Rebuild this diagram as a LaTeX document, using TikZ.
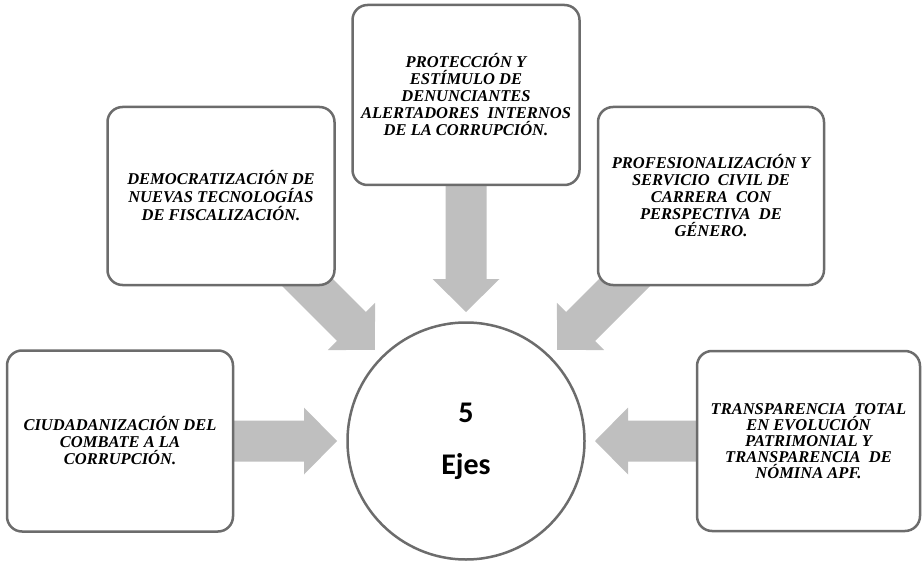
\documentclass[tikz,border=0pt]{standalone}
\usepackage{fontspec}
\setmainfont{Liberation Serif}
\newfontfamily\calibfont{Carlito}
\usetikzlibrary{calc,backgrounds}
\definecolor{arrowgray}{RGB}{191,191,191}
\definecolor{bordergray}{RGB}{108,108,108}
\newcommand\myblockarrow[2]{%
  \coordinate (T) at ($(#2.center)!129pt!(#1.center)$);
  \coordinate (H) at ($(T)!33pt!(#1.center)$);
  \fill[arrowgray] ($(#1.center)!20.5pt!90:(T)$) -- ($(H)!20.5pt!90:(T)$)
    -- ($(H)!33.5pt!90:(T)$) -- (T) -- ($(H)!33.5pt!-90:(T)$)
    -- ($(H)!20.5pt!-90:(T)$) -- ($(#1.center)!20.5pt!-90:(T)$) -- cycle;
}
\tikzset{
  axisbox/.style={draw=bordergray, line width=2.5pt, rounded corners=15pt, fill=white,
    inner sep=0pt, align=center,
    font=\fontsize{16.5}{17}\selectfont\bfseries\itshape},
  hub/.style={circle, draw=bordergray, line width=2.5pt, fill=white, inner sep=0pt,
    minimum size=237pt, align=center,
    font=\calibfont\fontsize{30}{52}\selectfont\bfseries}
}
\begin{document}
\begin{tikzpicture}[x=1pt,y=-1pt]
\useasboundingbox (0,0) rectangle (923,561);
\node[axisbox, minimum width=226pt, minimum height=181pt] (b1) at (120,441)
  {CIUDADANIZACIÓN DEL\\COMBATE A LA\\CORRUPCIÓN.};
\node[axisbox, minimum width=227pt, minimum height=178pt,
  font=\fontsize{16.5}{18}\selectfont\bfseries\itshape] (b2) at (221,196)
  {DEMOCRATIZACIÓN DE\\NUEVAS TECNOLOGÍAS\\DE FISCALIZACIÓN.};
\node[axisbox, minimum width=227pt, minimum height=180pt] (b3) at (466,95)
  {PROTECCIÓN Y\\ESTÍMULO DE\\DENUNCIANTES\\ALERTADORES\ \ INTERNOS\\DE LA CORRUPCIÓN.};
\node[axisbox, minimum width=226pt, minimum height=178pt] (b4) at (711,196)
  {PROFESIONALIZACIÓN Y\\SERVICIO\ \ CIVIL DE\\CARRERA\ \ CON\\PERSPECTIVA\ \ DE\\GÉNERO.};
\node[axisbox, minimum width=223pt, minimum height=180pt,
  font=\fontsize{16.5}{16}\selectfont\bfseries\itshape] (b5) at (808.5,441)
  {TRANSPARENCIA\ \ TOTAL\\EN EVOLUCIÓN\\PATRIMONIAL Y\\TRANSPARENCIA\ \ DE\\NÓMINA APF.};
\node[hub] (c) at (466,441) {5\\Ejes};
\begin{scope}[on background layer]
  \myblockarrow{b1}{c}
  \myblockarrow{b2}{c}
  \myblockarrow{b3}{c}
  \myblockarrow{b4}{c}
  \myblockarrow{b5}{c}
\end{scope}
\end{tikzpicture}
\end{document}
